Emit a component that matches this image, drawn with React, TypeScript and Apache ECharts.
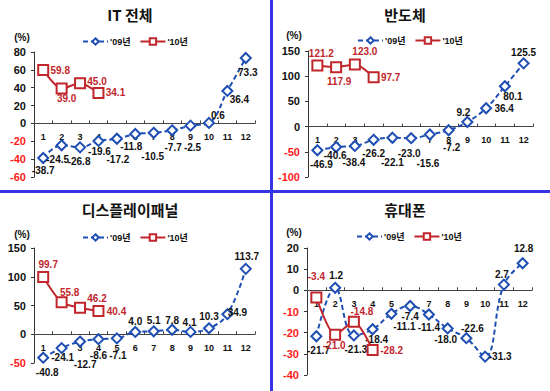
import React, { useEffect, useRef } from 'react';
import * as echarts from 'echarts';

const months = ['1', '2', '3', '4', '5', '6', '7', '8', '9', '10', '11', '12'];
const seriesNames = ["'09년", "'10년"];
const panelTitles = ['IT 전체', '반도체', '디스플레이패널', '휴대폰'];
const unitLabel = '(%)';

const itAll09 = [-38.7, -24.5, -26.8, -19.6, -17.2, -11.8, -10.5, -7.7, -2.5, 0.6, 36.4, 73.3];
const itAll10 = [59.8, 39.0, 45.0, 34.1];
const semi09 = [-46.9, -40.6, -38.4, -26.2, -22.1, -23.0, -15.6, -7.2, 9.2, 36.4, 80.1, 125.5];
const semi10 = [121.2, 117.9, 123.0, 97.7];
const disp09 = [-40.8, -24.1, -12.7, -8.6, -7.1, 4.0, 5.1, 7.8, 4.1, 10.3, 34.9, 113.7];
const disp10 = [99.7, 55.8, 46.2, 40.4];
const phone09 = [-21.7, 1.2, -21.3, -18.4, -11.1, -7.4, -11.4, -18.0, -22.6, -31.3, 2.7, 12.8];
const phone10 = [-3.4, -21.0, -14.8, -28.2];

// y axis ranges: [min, max, interval]
const yRanges = [
  [-60, 80, 20],
  [-100, 150, 50],
  [-50, 150, 50],
  [-40, 20, 10],
];

// label offsets (layout only)
const itAll09Off = [[0, 13], [-4, 14], [-1, 14], [1, 11], [1, 21], [-4, 13], [-1, 24], [1, 17], [2, 22], [9, -7], [12, 9], [2, 15]];
const itAll10Off = [[17, 0], [5, 10], [17, -2], [17, 0]];
const semi09Off = [[4, 14], [-1, 8], [-1, 17], [0, 14], [0, 25], [-2, 15], [-2, 29], [3, 17], [-4, -9], [18, 0], [8, 10], [0, -11]];
const semi10Off = [[4, -12], [3, 14], [10, -13], [17, 0]];
const disp09Off = [[4, 15], [1, 9], [5, 23], [0, 16], [1, 17], [0, -10], [0, -11], [0, -9], [-1, -9], [0, -12], [10, -2], [1, -12]];
const disp10Off = [[5, -12], [8, -10], [17, -9], [18, 0]];
const phone09Off = [[2, 14], [1, -12], [2, 14], [4, 10], [13, 13], [0, 11], [0, 13], [-2, 11], [6, -10], [15, 0], [-2, -10], [1, -15]];
const phone10Off = [[0, -21], [-1, 11], [8, -10], [19, 0]];

const grids = [
  { left: 34, top: 52, width: 221, height: 125 },
  { left: 308, top: 51, width: 225, height: 126 },
  { left: 34, top: 248, width: 221, height: 115 },
  { left: 307, top: 248, width: 225, height: 127 },
];
const titlePos = [[130, 7], [405, 7], [130, 202], [405, 202]];
const legendPos = [[82, 37], [357, 36], [82, 233], [356, 232]];
const unitPos = [[22, 37], [294, 35], [22, 234], [294, 232]];

const FONT = "'Liberation Sans', Arial, 'Noto Sans CJK KR', sans-serif";
const BLUE = '#1f4fb3';
const RED = '#c0262c';
const SEP = '#3535e6';

export default function App() {
  const ref = useRef<HTMLDivElement>(null);
  useEffect(() => {
    if (!ref.current) return;
    const chart = echarts.init(ref.current, undefined, { renderer: 'svg' });
    const data09 = [itAll09, semi09, disp09, phone09];
    const data10 = [itAll10, semi10, disp10, phone10];
    const off09 = [itAll09Off, semi09Off, disp09Off, phone09Off];
    const off10 = [itAll10Off, semi10Off, disp10Off, phone10Off];

    const series: any[] = [];
    for (let p = 0; p < 4; p++) {
      series.push({
        name: seriesNames[0],
        type: 'line',
        xAxisIndex: p,
        yAxisIndex: p,
        smooth: 0.4,
        symbol: 'diamond',
        symbolSize: 10,
        lineStyle: { color: BLUE, width: 2, type: [5, 3] },
        itemStyle: { color: '#fff', borderColor: BLUE, borderWidth: 2 },
        label: {
          show: true,
          position: 'inside',
          fontSize: 10,
          fontWeight: 'bold',
          fontFamily: FONT,
          color: '#111',
          formatter: (q: any) => Number(q.value).toFixed(1),
        },
        data: data09[p].map((v, i) => ({ value: v, label: { offset: off09[p][i] } })),
        z: 2,
      });
      series.push({
        name: seriesNames[1],
        type: 'line',
        xAxisIndex: p,
        yAxisIndex: p,
        smooth: 0.25,
        symbol: 'rect',
        symbolSize: 10,
        lineStyle: { color: RED, width: 2 },
        itemStyle: { color: '#fff', borderColor: RED, borderWidth: 2 },
        label: {
          show: true,
          position: 'inside',
          fontSize: 10,
          fontWeight: 'bold',
          fontFamily: FONT,
          color: RED,
          formatter: (q: any) => Number(q.value).toFixed(1),
        },
        data: data10[p].map((v, i) => ({ value: v, label: { offset: off10[p][i] } })),
        z: 3,
      });
    }

    const option: any = {
      animation: false,
      backgroundColor: '#fff',
      title: panelTitles.map((t, p) => ({
        text: t,
        left: titlePos[p][0],
        top: titlePos[p][1],
        textAlign: 'center',
        padding: 0,
        textStyle: { fontSize: 15, fontWeight: 'bold', color: '#111', fontFamily: "'Noto Sans CJK KR', sans-serif" },
      })),
      legend: legendPos.map((lp) => ({
        data: seriesNames,
        left: lp[0],
        top: lp[1],
        itemWidth: 25,
        itemHeight: 8,
        itemGap: 9,
        padding: 0,
        selectedMode: false,
        textStyle: { fontSize: 9, fontWeight: 'bold', color: '#111', fontFamily: FONT, padding: [0, 0, 0, -3] },
      })),
      grid: grids.map((g) => ({ ...g, containLabel: false })),
      xAxis: grids.map((g, p) => {
        const [mn, mx] = yRanges[p];
        return {
          type: 'category',
          gridIndex: p,
          data: months,
          boundaryGap: true,
          position: 'bottom',
          offset: -g.height * (0 - mn) / (mx - mn),
          axisLine: { show: true, onZero: false, lineStyle: { color: '#444', width: 1 } },
          axisTick: { show: true, inside: true, length: 3, lineStyle: { color: '#444' } },
          axisLabel: { fontSize: 9, fontWeight: 'bold', color: '#111', fontFamily: FONT, margin: 9 },
          splitLine: { show: false },
        };
      }),
      yAxis: yRanges.map((r, p) => ({
        type: 'value',
        gridIndex: p,
        min: r[0],
        max: r[1],
        interval: r[2],
        axisLine: { show: true, lineStyle: { color: '#333', width: 1 } },
        axisTick: { show: true, length: 3, lineStyle: { color: '#333' } },
        axisLabel: {
          fontSize: 11,
          fontWeight: 'bold',
          fontFamily: FONT,
          margin: 8,
          color: (v: any) => (Number(v) < 0 ? '#ff1a1a' : '#111'),
        },
        splitLine: { show: false },
      })),
      graphic: [
        ...unitPos.map((u) => ({
          type: 'text',
          x: u[0],
          y: u[1],
          style: {
            text: unitLabel,
            fontSize: 10,
            fontWeight: 'bold',
            fontFamily: FONT,
            fill: '#111',
            textAlign: 'center',
            textVerticalAlign: 'middle',
          },
        })),
        { type: 'line', shape: { x1: 271.5, y1: 0, x2: 271.5, y2: 391 }, style: { stroke: SEP, lineWidth: 3 }, z: 100 },
        { type: 'line', shape: { x1: 0, y1: 191.5, x2: 550, y2: 191.5 }, style: { stroke: SEP, lineWidth: 3 }, z: 100 },
      ],
      series,
    };
    chart.setOption(option);
    return () => chart.dispose();
  }, []);
  return <div ref={ref} style={{ position: 'fixed', left: 0, top: 0, width: 550, height: 391 }} />;
}
